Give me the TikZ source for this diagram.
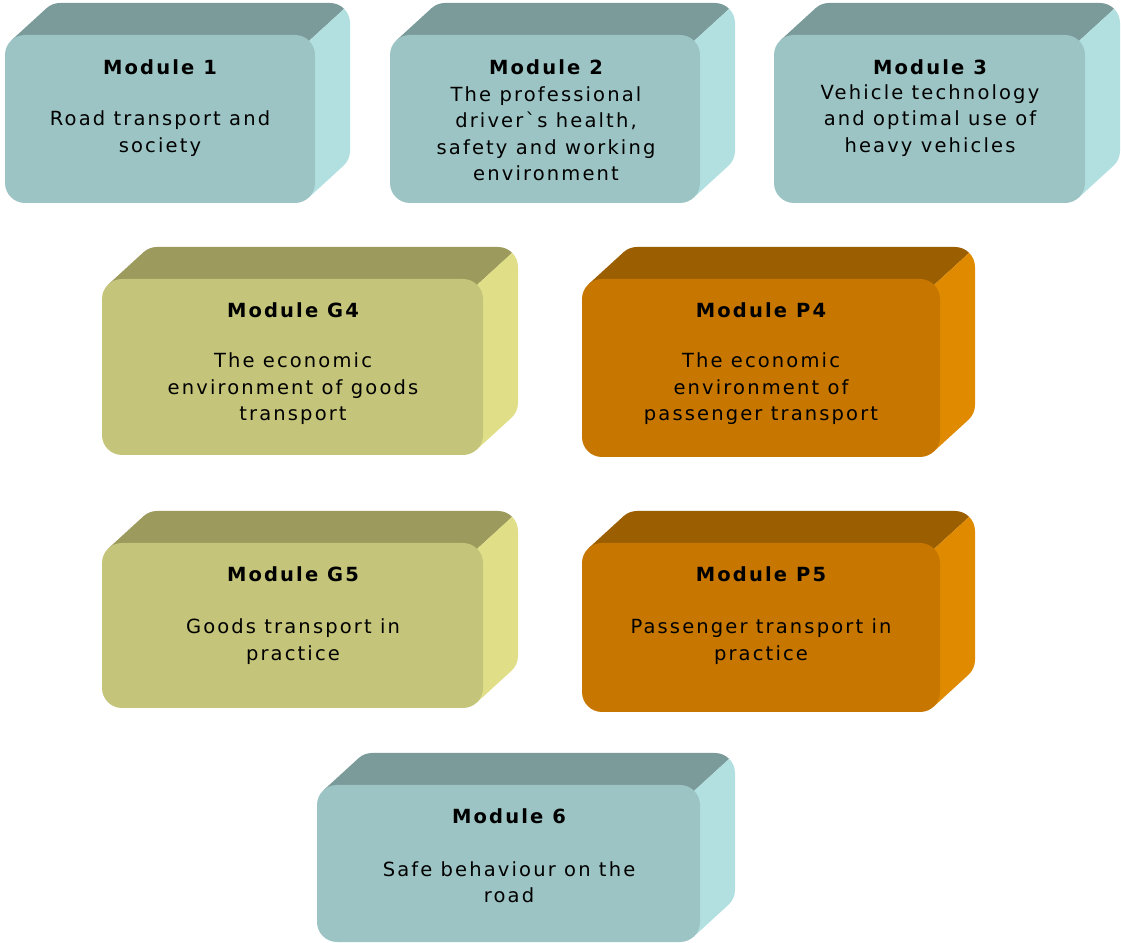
\documentclass[tikz,border=0pt]{standalone}
\usepackage{fontspec}
\setmainfont{DejaVu Sans}[LetterSpace=11]
\usetikzlibrary{calc}

\definecolor{tealfront}{HTML}{9DC4C4}
\definecolor{tealtop}{HTML}{7B9B9A}
\definecolor{tealside}{HTML}{B2E0E0}
\definecolor{olivefront}{HTML}{C4C47A}
\definecolor{olivetop}{HTML}{9C9A5D}
\definecolor{oliveside}{HTML}{E0DF88}
\definecolor{orangefront}{HTML}{C77700}
\definecolor{orangetop}{HTML}{9B5E00}
\definecolor{orangeside}{HTML}{E08A00}

% 3d block: left, bottom, right, top of the front face, colour
\newcommand{\modblock}[5]{%
  \fill[#5top] ($(#1+20,#4-20)+(132.4:20pt)$) -- ++(35,32)
    arc[start angle=132.4, end angle=90, radius=20pt] -- (#3+15,#4+32)
    arc[start angle=90, end angle=45, radius=20pt]
    -- ($(#3-20,#4-20)+(45:20pt)$) -- (#3-20,#4-20) -- (#1+20,#4-20) -- cycle;
  \fill[#5side] ($(#3-20,#4-20)+(45:20pt)$) -- ++(35,32)
    arc[start angle=45, end angle=0, radius=20pt] -- (#3+35,#2+52)
    arc[start angle=0, end angle=-47.6, radius=20pt]
    -- ($(#3-20,#2+20)+(-47.6:20pt)$) -- (#3-20,#2+20) -- (#3-20,#4-20) -- cycle;
  \fill[#5front, rounded corners=20pt] (#1,#2) rectangle (#3,#4);
}

\begin{document}
\begin{tikzpicture}[x=1pt, y=1pt,
  title/.style={font=\fontsize{19.5}{26.5}\selectfont\bfseries},
  body/.style={align=center, font=\fontsize{19.5}{26.5}\selectfont}]
\useasboundingbox (0,0) rectangle (1121,942);

\modblock{5}{739}{315}{907}{teal}
\modblock{390}{739}{700}{907}{teal}
\modblock{774}{739}{1085}{907}{teal}
\modblock{102}{487}{483}{663}{olive}
\modblock{582}{485}{940}{663}{orange}
\modblock{102}{234}{483}{399}{olive}
\modblock{582}{230}{940}{399}{orange}
\modblock{317}{0}{700}{157}{teal}

\node[title] (m1) at (160, 875) {Module 1};
\node[body] (m1txt) at (160, 808.5) {Road transport and\\society};

\node[title] (m2) at (546, 875) {Module 2};
\node[body] (m2txt) at (546, 808.5) {The professional\\driver\symbol{"02CB}s health,\\safety and working\\environment};

\node[title] (m3) at (930, 875) {Module 3};
\node[body] (m3txt) at (930, 821.5) {Vehicle technology\\and optimal use of\\heavy vehicles};

\node[title] (g4) at (293, 632) {Module G4};
\node[body] (g4txt) at (293, 553) {The economic\\environment of goods\\transport};

\node[title] (p4) at (761, 632) {Module P4};
\node[body] (p4txt) at (761, 553) {The economic\\environment of\\passenger transport};

\node[title] (g5) at (293, 368) {Module G5};
\node[body] (g5txt) at (293, 300.5) {Goods transport in\\practice};

\node[title] (p5) at (761, 368) {Module P5};
\node[body] (p5txt) at (761, 300.5) {Passenger transport in\\practice};

\node[title] (m6) at (509, 126) {Module 6};
\node[body] (m6txt) at (509, 60) {Safe behaviour on the\\road};

\end{tikzpicture}
\end{document}
